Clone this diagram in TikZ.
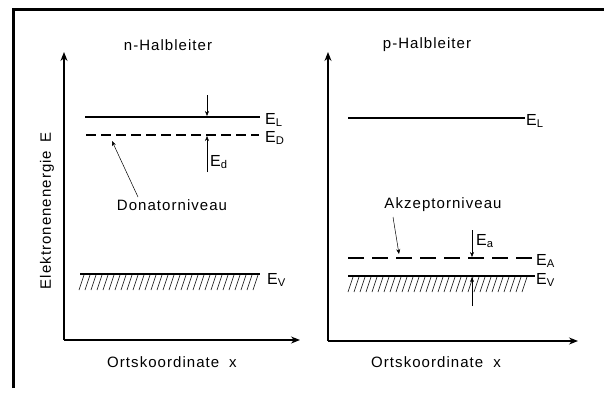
\documentclass[tikz,border=0pt]{standalone}
\usepackage{fontspec}
\setmainfont{Liberation Sans}[LetterSpace=7]
\usetikzlibrary{arrows.meta,patterns}
\begin{document}
\begin{tikzpicture}[x=1pt,y=-1pt,
  txt/.style={inner sep=0pt,font=\fontsize{15}{17}\selectfont},
  lbl/.style={inner sep=0pt,anchor=west,font=\fontsize{16}{18}\selectfont},
  axis/.style={line width=1.2pt,-{Stealth[length=9pt,width=7pt]}},
  level/.style={line width=1.4pt},
  dlevelD/.style={line width=1.4pt,dash pattern=on 10pt off 5pt},
  dlevelA/.style={line width=1.4pt,dash pattern=on 16pt off 8pt},
  thinarrow/.style={line width=0.5pt,-{Stealth[length=5pt,width=4pt]}},
  hatch/.style={line width=0.6pt},
  frame/.style={line width=3pt}]
\useasboundingbox (0,0) rectangle (604,396);
% frame
\coordinate (fa) at (13,388);
\coordinate (fb) at (13,10);
\coordinate (fc) at (604,10);
\draw[frame] (fa) -- (fb) -- (fc);

% ===== left panel =====
\coordinate (lo) at (64,340);
\coordinate (ly) at (64,52);
\coordinate (lx) at (300,340);
\draw[axis] (lo) -- (ly);
\draw[axis] (lo) -- (lx);
\node[txt] (ltitle) at (168,45) {n-Halbleiter};
\node[txt,rotate=90] (ylab) at (47,211) {Elektronenenergie\hspace{8pt}E};
\node[txt] (lxlab) at (172,362) {Ortskoordinate\hspace{10pt}x};

\coordinate (lL1) at (85,117);
\coordinate (lL2) at (260,117);
\draw[level] (lL1) -- (lL2);
\node[lbl] (lEL) at (265,120) {E\textsubscript{L}};
\coordinate (lD1) at (86,135);
\coordinate (lD2) at (259,135);
\draw[dlevelD] (lD1) -- (lD2);
\node[lbl] (lED) at (265,138) {E\textsubscript{D}};

\coordinate (lV1) at (80,274);
\coordinate (lV2) at (260,274);
\draw[level] (lV1) -- (lV2);
\foreach \i in {0,...,29} {
  \draw[hatch] ({84+6*\i},275) -- ({79+6*\i},290);
}
\node[lbl] (lEV) at (267,280) {E\textsubscript{V}};

\coordinate (ldn) at (207,95);
\coordinate (ldnt) at (207,116);
\draw[thinarrow] (ldn) -- (ldnt);
\coordinate (lup) at (207,172);
\coordinate (lupt) at (207,136);
\draw[thinarrow] (lup) -- (lupt);
\node[lbl] (lEd) at (210,162) {E\textsubscript{d}};

\node[txt] (don) at (172,205) {Donatorniveau};
\coordinate (donT) at (112,141);
\draw[thinarrow] (138,197) -- (donT);

% ===== right panel =====
\coordinate (ro) at (328,341);
\coordinate (ry) at (328,52);
\coordinate (rx) at (578,341);
\draw[axis] (ro) -- (ry);
\draw[axis] (ro) -- (rx);
\node[txt] (rtitle) at (427,45) {p-Halbleiter};
\node[txt] (rxlab) at (436,362) {Ortskoordinate\hspace{10pt}x};

\coordinate (rL1) at (348,118);
\coordinate (rL2) at (525,118);
\draw[level] (rL1) -- (rL2);
\node[lbl] (rEL) at (526,121) {E\textsubscript{L}};

\node[txt] (akz) at (443,205) {Akzeptorniveau};
\coordinate (akzT) at (399,254);
\draw[thinarrow] (393,217) -- (akzT);

\coordinate (rA1) at (348,258);
\coordinate (rA2) at (535,258);
\draw[dlevelA] (rA1) -- (rA2);
\node[lbl] (rEA) at (536,261) {E\textsubscript{A}};

\coordinate (rV1) at (348,276);
\coordinate (rV2) at (535,276);
\draw[level] (rV1) -- (rV2);
\foreach \i in {0,...,29} {
  \draw[hatch] ({353+6*\i},277) -- ({348+6*\i},292);
}
\node[lbl] (rEV) at (536,280) {E\textsubscript{V}};

\coordinate (rdn) at (472,230);
\coordinate (rdnt) at (472,257);
\draw[thinarrow] (rdn) -- (rdnt);
\coordinate (rup) at (472,306);
\coordinate (rupt) at (472,277);
\draw[thinarrow] (rup) -- (rupt);
\node[lbl] (rEa) at (476,241) {E\textsubscript{a}};
\end{tikzpicture}
\end{document}
